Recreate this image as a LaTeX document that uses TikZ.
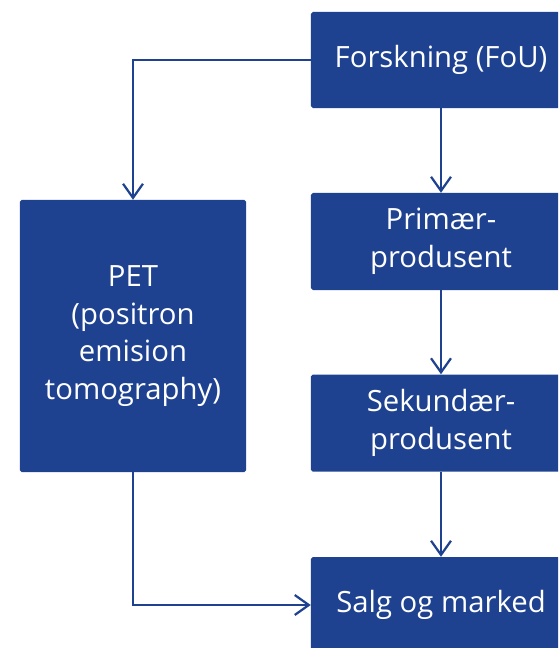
\documentclass[tikz,border=0pt]{standalone}
\usepackage{fontspec}
\setmainfont{Open Sans}
\usepackage{xcolor}
\usetikzlibrary{arrows.meta, positioning}
\definecolor{boxblue}{RGB}{31,66,144}

\begin{document}
\begin{tikzpicture}[x=0.03cm, y=-0.03cm,
  every node/.style={font=\fontsize{25}{32}\selectfont},
  blokk/.style={fill=boxblue, text=white, rounded corners=1.5pt, align=center, inner sep=0pt},
  pil/.style={draw=boxblue, line width=1.9pt, -{Straight Barb[length=12pt, width=17pt, line width=1.9pt]}}]
% ramme
\clip (0,0) rectangle (558,648);
\useasboundingbox (0,0) rectangle (558,648);

% Bokser til høyre
\node[blokk, minimum width=7.8cm, minimum height=2.88cm] (fou) at (441,60) {Forskning (FoU)};
\node[blokk, minimum width=7.8cm, minimum height=2.91cm] (prim) at (441,241.5) {Primær-\\produsent};
\node[blokk, minimum width=7.8cm, minimum height=2.91cm] (sek) at (441,423) {Sekundær-\\produsent};
\node[blokk, minimum width=7.8cm, minimum height=2.88cm] (salg) at (441,605) {Salg og marked};

% Boks til venstre
\node[blokk, minimum width=6.78cm, minimum height=8.16cm] (pet) at (133,336) {PET\\(positron\\emision\\tomography)};

% Piler
\draw[pil] (fou.west) -| (pet.north);
\draw[pil] (fou) -- (prim);
\draw[pil] (prim) -- (sek);
\draw[pil] (sek) -- (salg);
\draw[pil] (pet.south) |- (salg.west);

\end{tikzpicture}
\end{document}
